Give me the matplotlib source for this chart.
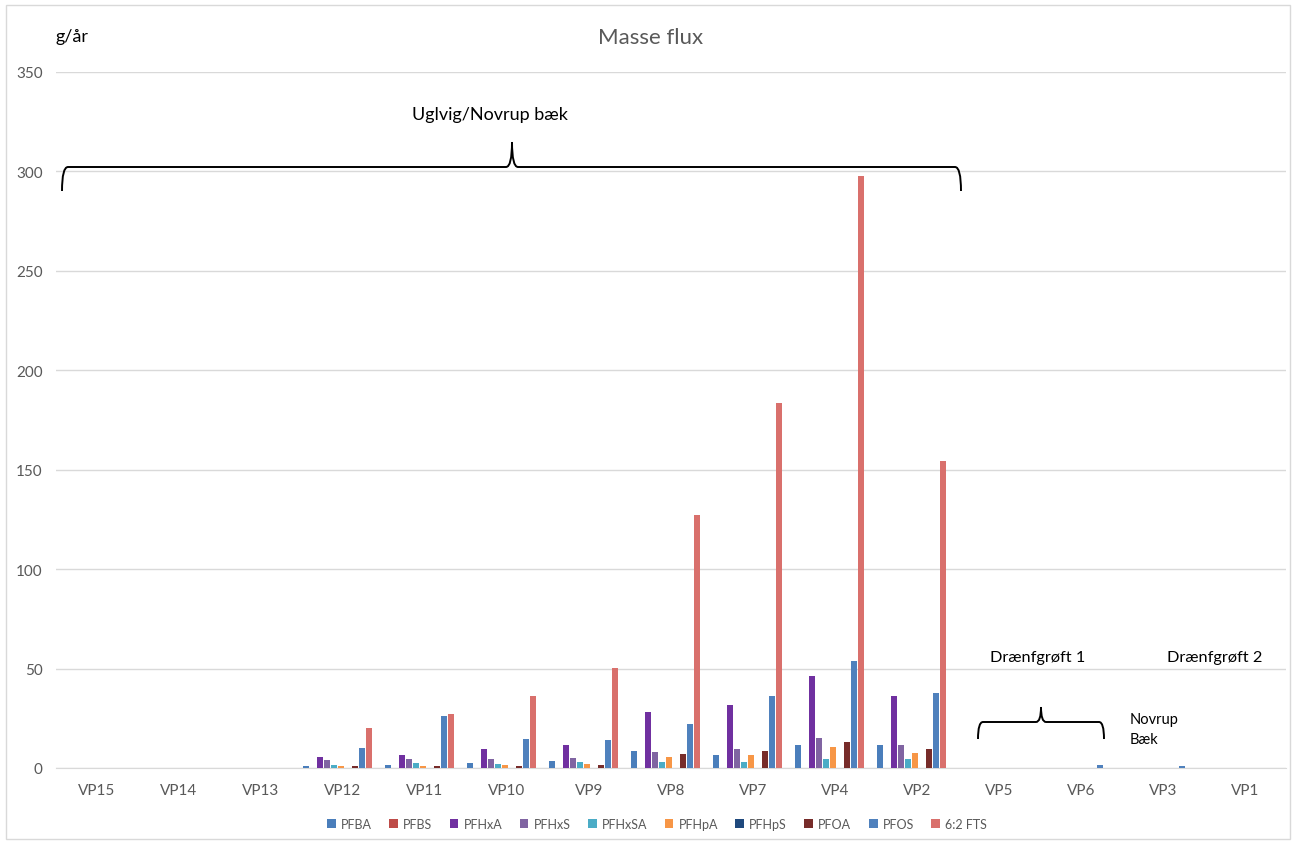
import matplotlib
matplotlib.use('Agg')
import matplotlib.pyplot as plt
from matplotlib.path import Path
from matplotlib.patches import PathPatch, Rectangle
import numpy as np

plt.rcParams['font.family'] = ['Lato', 'DejaVu Sans']

sites = ['VP15', 'VP14', 'VP13', 'VP12', 'VP11', 'VP10', 'VP9', 'VP8',
         'VP7', 'VP4', 'VP2', 'VP5', 'VP6', 'VP3', 'VP1']
compounds = ['PFBA', 'PFBS', 'PFHxA', 'PFHxS', 'PFHxSA', 'PFHpA', 'PFHpS',
             'PFOA', 'PFOS', '6:2 FTS']

# g/aar
PFBA   = [0, 0, 0, 1.2, 1.5, 2.5, 3.3, 8.4, 6.7, 11.7, 11.4, 0, 0, 0, 0]
PFBS   = [0, 0, 0, 0, 0, 0, 0, 0, 0, 0, 0, 0, 0, 0, 0]
PFHxA  = [0, 0, 0, 5.4, 6.7, 9.7, 11.4, 28.0, 31.5, 46.4, 36.2, 0, 0, 0, 0]
PFHxS  = [0, 0, 0, 4.0, 4.5, 4.5, 5.0, 7.9, 9.5, 15.1, 11.7, 0, 0, 0, 0]
PFHxSA = [0, 0, 0, 1.5, 2.5, 2.0, 2.8, 3.2, 3.2, 4.5, 4.5, 0, 0, 0, 0]
PFHpA  = [0, 0, 0, 1.2, 1.2, 1.5, 2.0, 5.4, 6.7, 10.4, 7.5, 0, 0, 0, 0]
PFHpS  = [0, 0, 0, 0, 0, 0, 0, 0, 0, 0, 0, 0, 0, 0, 0]
PFOA   = [0, 0, 0, 0.8, 1.2, 0.8, 1.5, 7.0, 8.4, 13.1, 9.5, 0, 0, 0, 0]
PFOS   = [0, 0, 0, 10.0, 26.0, 14.7, 14.2, 22.1, 36.4, 54.0, 37.7, 0, 1.5, 0.8, 0]
FTS62  = [0, 0, 0, 20.3, 27.1, 36.2, 50.3, 127.1, 183.4, 297.5, 154.4, 0, 0, 0, 0]

series = [PFBA, PFBS, PFHxA, PFHxS, PFHxSA, PFHpA, PFHpS, PFOA, PFOS, FTS62]
colors = ['#4a7ebb', '#be4b48', '#7030a0', '#8064a2', '#4bacc6', '#f79646',
          '#1f497d', '#772c2a', '#4f81bd', '#d9706c']

W, H = 1295, 845
fig = plt.figure(figsize=(W/100, H/100), dpi=100)
ax = fig.add_axes([56/W, 1-769/H, (1286-56)/W, (769-73)/H])

x = np.arange(len(sites))
step = 0.086
bw = 0.073
for i, (vals, c, name) in enumerate(zip(series, colors, compounds)):
    ax.bar(x + (i-4.5)*step - 0.07, vals, width=bw, color=c, label=name, zorder=3)

ax.set_xlim(-0.5, len(sites)-0.5)
ax.set_ylim(0, 350)
ax.set_yticks(np.arange(0, 351, 50))
ax.set_xticks(x)
ax.set_xticklabels(sites)
ax.grid(axis='y', color='#d9d9d9', linewidth=1, zorder=0)
for s in ['top', 'right', 'left']:
    ax.spines[s].set_visible(False)
ax.spines['bottom'].set_color('#d9d9d9')
ax.tick_params(axis='both', length=0, colors='#595959', labelsize=11)
ax.tick_params(axis='x', pad=10.5)
ax.tick_params(axis='y', pad=9.5)

def px(xp, yp):
    return (xp/W, 1-yp/H)

fig.text(*px(651, 38), 'Masse flux', ha='center', va='center', fontsize=16, color='#595959')
fig.text(*px(55, 37), 'g/år', ha='left', va='center', fontsize=13, color='black')
fig.text(*px(490, 115), 'Uglvig/Novrup bæk', ha='center', va='center', fontsize=13)
fig.text(*px(1038, 658), 'Drænfgrøft 1', ha='center', va='center', fontsize=11.8)
fig.text(*px(1215, 658), 'Drænfgrøft 2', ha='center', va='center', fontsize=11.8)
fig.text(*px(1130, 730), 'Novrup\nBæk', ha='left', va='center', fontsize=10.5, linespacing=1.6)

def brace(x0, x1, xm, yt, yb, yp, r=6):
    verts = [px(x0, yb), px(x0, yt), px(x0+r, yt),
             px(xm-r, yt), px(xm, yt), px(xm, yp),
             px(xm, yt), px(xm+r, yt),
             px(x1-r, yt), px(x1, yt), px(x1, yb)]
    codes = [Path.MOVETO, Path.CURVE3, Path.CURVE3,
             Path.LINETO, Path.CURVE3, Path.CURVE3,
             Path.CURVE3, Path.CURVE3,
             Path.LINETO, Path.CURVE3, Path.CURVE3]
    fig.patches.append(PathPatch(Path(verts, codes), transform=fig.transFigure,
                                 fill=False, edgecolor='black', linewidth=1.4))

brace(62, 961, 512, 168, 192, 143)
brace(978, 1104, 1041, 723, 740, 708, r=5)

fig.patches.append(Rectangle((6/W, 1-840/H), 1284/W, 834/H, transform=fig.transFigure,
                             fill=False, edgecolor='#d9d9d9', linewidth=1))

fig.legend(loc='center', bbox_to_anchor=(657/W, 1-825/H), ncol=10, frameon=False,
           fontsize=9, handlelength=0.7, handleheight=0.7, handletextpad=0.4,
           columnspacing=1.4, labelcolor='#595959')

fig.savefig('out.png', dpi=100)
